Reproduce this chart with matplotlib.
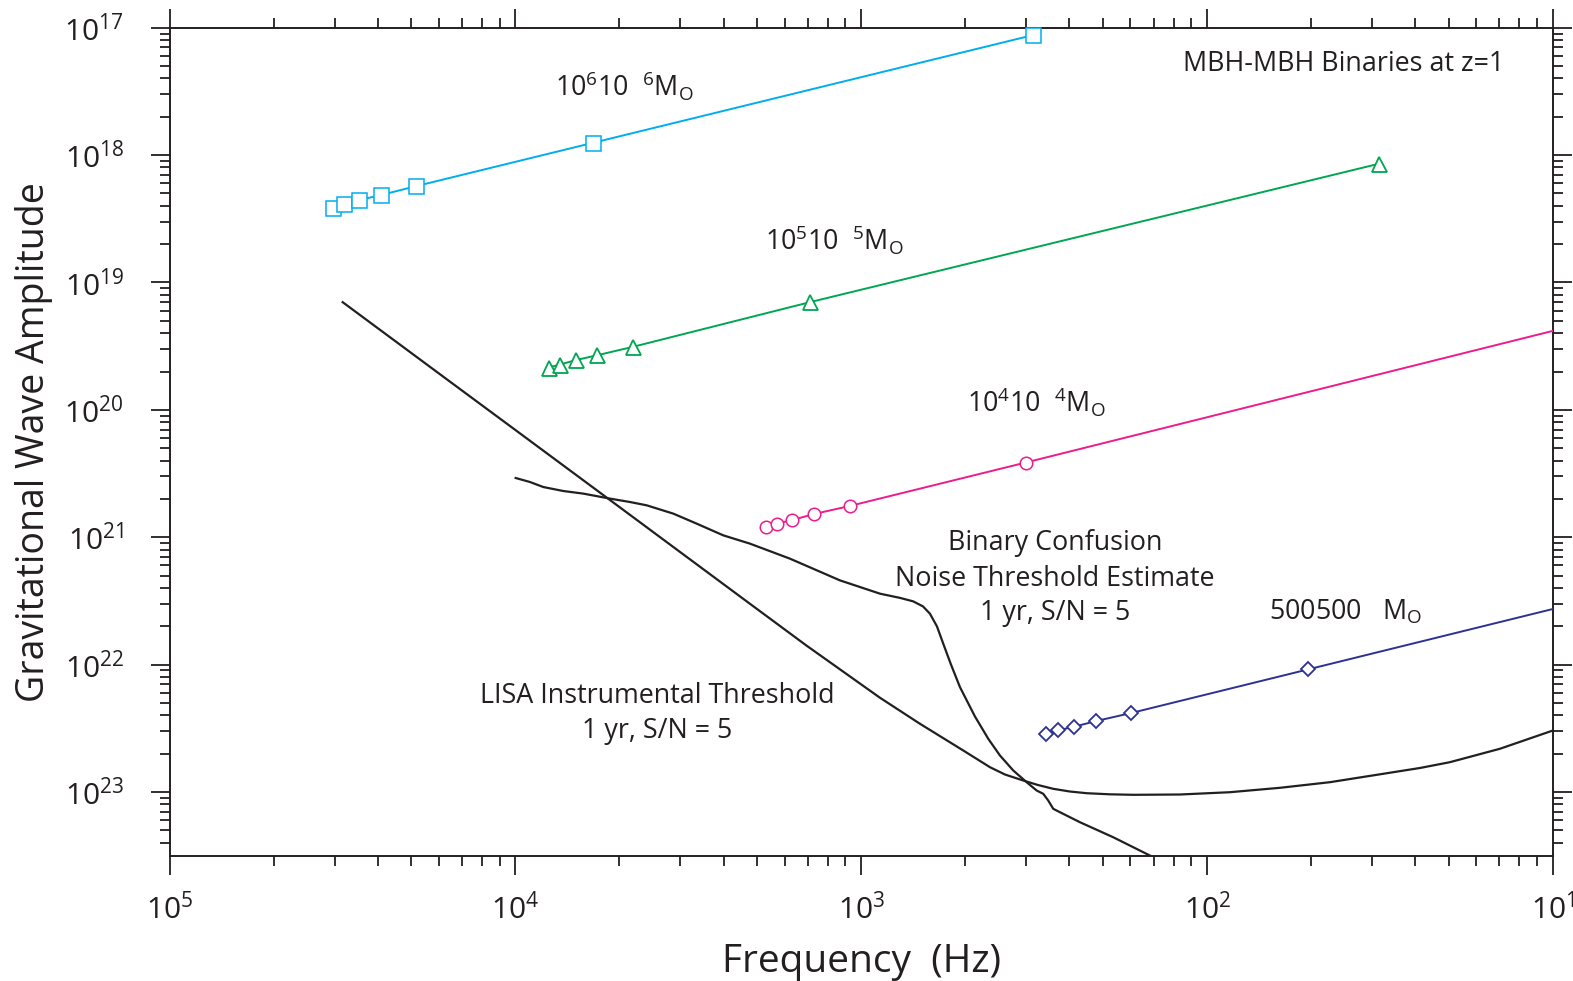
import numpy as np
import matplotlib
matplotlib.use("Agg")
import matplotlib.pyplot as plt
from matplotlib import ticker

# ---------------- data (frequency in Hz, strain amplitude) ----------------
# 10^6 Msun binaries (cyan squares)
f_1e6 = [2.96e-5, 3.19e-5, 3.54e-5, 4.08e-5, 5.16e-5, 1.68e-4, 3.14e-3]
h_1e6 = [3.855e-19, 4.12e-19, 4.44e-19, 4.85e-19, 5.70e-19, 1.25e-18, 8.75e-18]

# 10^5 Msun binaries (green triangles)
f_1e5 = [1.247e-4, 1.346e-4, 1.493e-4, 1.726e-4, 2.183e-4, 7.10e-4, 3.15e-2]
h_1e5 = [2.148e-20, 2.27e-20, 2.455e-20, 2.685e-20, 3.12e-20, 7.00e-20, 8.57e-19]

# 10^4 Msun binaries (magenta circles); last point = line end at plot edge
f_1e4 = [5.30e-4, 5.71e-4, 6.32e-4, 7.29e-4, 9.27e-4, 2.985e-3, 1.0e-1]
h_1e4 = [1.21e-21, 1.28e-21, 1.365e-21, 1.52e-21, 1.76e-21, 3.855e-21, 4.17e-20]

# 500 Msun binaries (navy diamonds); last point = line end at plot edge
f_500 = [3.41e-3, 3.715e-3, 4.12e-3, 4.76e-3, 6.01e-3, 1.954e-2, 1.0e-1]
h_500 = [2.84e-23, 3.055e-23, 3.25e-23, 3.60e-23, 4.16e-23, 9.16e-23, 2.735e-22]

# LISA instrumental threshold (1 yr, S/N = 5), read as log10 values
lisa_log_f = [-4.4993, -4.1891, -3.9962, -3.7265, -3.5724, -3.3218, -3.1578,
              -2.9459, -2.8303, -2.7051, -2.6279, -2.5846, -2.5317, -2.4892,
              -2.4449, -2.3967, -2.3483, -2.2810, -2.2136, -2.0786, -1.9341,
              -1.7895, -1.6451, -1.4909, -1.3848, -1.2981, -1.1535, -1.0]
lisa_log_h = [-19.1548, -19.7785, -20.1657, -20.7078, -21.0181, -21.5224, -21.8515,
              -22.2600, -22.4643, -22.6740, -22.8052, -22.8625, -22.9097, -22.9450,
              -22.9749, -22.9961, -23.0094, -23.0181, -23.0220, -23.0196, -23.0016,
              -22.9670, -22.9230, -22.8570, -22.8115, -22.7659, -22.6606, -22.5169]

# Binary confusion noise threshold estimate, read as log10 values
conf_log_f = [-3.9991, -3.9578, -3.9194, -3.8615, -3.8037, -3.7265, -3.6687,
              -3.6204, -3.5435, -3.4759, -3.3990, -3.3218, -3.2062, -3.0616,
              -2.9459, -2.8881, -2.8497, -2.8216, -2.8014, -2.7811, -2.7629,
              -2.7407, -2.7146, -2.6713, -2.6328, -2.5990, -2.5605, -2.5218,
              -2.4929, -2.4738, -2.4594, -2.4449, -2.4255, -2.3677, -2.2715,
              -2.1653, -2.1364]
conf_log_h = [-20.5350, -20.5664, -20.6057, -20.6371, -20.6575, -20.6968, -20.7235,
              -20.7494, -20.8146, -20.8932, -20.9851, -21.0503, -21.1681, -21.3386,
              -21.4430, -21.4760, -21.5035, -21.5428, -21.6002, -21.6999, -21.8358,
              -21.9984, -22.1767, -22.4069, -22.5821, -22.7133, -22.8311, -22.9230,
              -22.9882, -23.0141, -23.0668, -23.1320, -23.1587, -23.2372, -23.3551,
              -23.4988, -23.5380]

x_limits = (1e-5, 1e-1)
y_limits = (10 ** -23.5, 1e-17)
x_decades = [-5, -4, -3, -2, -1]
y_decades = [-23, -22, -21, -20, -19, -18, -17]

# ---------------- style ----------------
plt.rcParams['font.family'] = ['Open Sans', 'DejaVu Sans']
TXT = '#231f20'
C_CYAN = '#00aeef'
C_GREEN = '#00a651'
C_MAG = '#ec1c8c'
C_NAVY = '#2e3192'

W, H = 1573, 981
fig = plt.figure(figsize=(W / 100, H / 100), dpi=100)
L, R, T, B = 169.5, 1553.0, 27.7, 855.7
ax = fig.add_axes([L / W, 1 - B / H, (R - L) / W, (B - T) / H])
ax.set_xscale('log')
ax.set_yscale('log')
ax.set_xlim(*x_limits)
ax.set_ylim(*y_limits)

# curves
ax.plot(10 ** np.array(lisa_log_f), 10 ** np.array(lisa_log_h), color=TXT, lw=1.6,
        solid_joinstyle='round', zorder=3)
ax.plot(10 ** np.array(conf_log_f), 10 ** np.array(conf_log_h), color=TXT, lw=1.6,
        solid_joinstyle='round', zorder=3)

ax.plot(f_1e6, h_1e6, color=C_CYAN, lw=1.4, marker='s', ms=10.8, mfc='white',
        mec=C_CYAN, mew=1.1, clip_on=False, zorder=4)
ax.plot(f_1e5, h_1e5, color=C_GREEN, lw=1.4, marker='^', ms=10.8, mfc='white',
        mec=C_GREEN, mew=1.3, clip_on=False, zorder=4)
ax.plot(f_1e4, h_1e4, color=C_MAG, lw=1.4, marker='o', ms=9, mfc='white',
        mec=C_MAG, mew=1.1, markevery=slice(0, -1), zorder=4)
ax.plot(f_500, h_500, color=C_NAVY, lw=1.4, marker='D', ms=7, mfc='white',
        mec=C_NAVY, mew=1.3, markevery=slice(0, -1), zorder=4)

# ticks (only within the visible range)
def minors(lo, hi):
    vals = [m * 10.0 ** d for d in range(int(np.floor(np.log10(lo))), int(np.ceil(np.log10(hi))))
            for m in range(2, 10)]
    return [v for v in vals if lo <= v <= hi]

ax.xaxis.set_major_locator(ticker.FixedLocator([10.0 ** d for d in x_decades]))
ax.yaxis.set_major_locator(ticker.FixedLocator([10.0 ** d for d in y_decades]))
ax.xaxis.set_minor_locator(ticker.FixedLocator(minors(*x_limits)))
ax.yaxis.set_minor_locator(ticker.FixedLocator(minors(*y_limits)))
fmt = ticker.FuncFormatter(lambda v, pos: r'$\mathregular{10^{%d}}$' % abs(int(round(np.log10(v)))))
ax.xaxis.set_major_formatter(fmt)
ax.yaxis.set_major_formatter(fmt)
ax.xaxis.set_minor_formatter(ticker.NullFormatter())
ax.yaxis.set_minor_formatter(ticker.NullFormatter())

ax.tick_params(which='both', direction='out', top=True, right=True,
               color=TXT, width=1.3, labelcolor=TXT)
ax.tick_params(which='major', length=14, labelsize=21.5)
ax.tick_params(which='minor', length=7)
ax.tick_params(axis='y', which='major', pad=19)
ax.tick_params(axis='x', which='major', pad=13)
for s in ax.spines.values():
    s.set_linewidth(1.4)
    s.set_color(TXT)

# axis labels
ax.set_xlabel('Frequency  (Hz)', fontsize=28, color=TXT)
ax.xaxis.set_label_coords(0.5, (B - 971.7) / (B - T))
ax.xaxis.label.set_verticalalignment('baseline')
fig.text(34.5 / W, 1 - 441.7 / H, 'Gravitational Wave Amplitude', fontsize=27,
         color=TXT, rotation=90, ha='center', va='center')

# annotations (axes fraction coordinates)
def ax_xy(px, py):
    return (px - L) / (R - L), (B - py) / (B - T)

FS = 19.4
ax.text(*ax_xy(555, 95), r'10$\mathregular{^6}$10  $\mathregular{^6}$M$\mathregular{_O}$',
        transform=ax.transAxes, fontsize=FS, color=TXT, va='baseline', ha='left')
ax.text(*ax_xy(765, 250), r'10$\mathregular{^5}$10  $\mathregular{^5}$M$\mathregular{_O}$',
        transform=ax.transAxes, fontsize=FS, color=TXT, va='baseline', ha='left')
ax.text(*ax_xy(966.7, 411.7), r'10$\mathregular{^4}$10  $\mathregular{^4}$M$\mathregular{_O}$',
        transform=ax.transAxes, fontsize=FS, color=TXT, va='baseline', ha='left')
ax.text(*ax_xy(1269.3, 619.3), r'500500   M$\mathregular{_O}$',
        transform=ax.transAxes, fontsize=FS, color=TXT, va='baseline', ha='left')
ax.text(*ax_xy(1183, 70.7), 'MBH-MBH Binaries at z=1',
        transform=ax.transAxes, fontsize=FS, color=TXT, va='baseline', ha='left')

for line, py in [('Binary Confusion', 550), ('Noise Threshold Estimate', 585.7),
                 ('1 yr, S/N = 5', 620)]:
    ax.text(*ax_xy(1055, py), line, transform=ax.transAxes, fontsize=FS,
            color=TXT, va='baseline', ha='center')
for line, py in [('LISA Instrumental Threshold', 702.7), ('1 yr, S/N = 5', 738.3)]:
    ax.text(*ax_xy(657, py), line, transform=ax.transAxes, fontsize=FS,
            color=TXT, va='baseline', ha='center')

fig.savefig('out.png', dpi=100)
